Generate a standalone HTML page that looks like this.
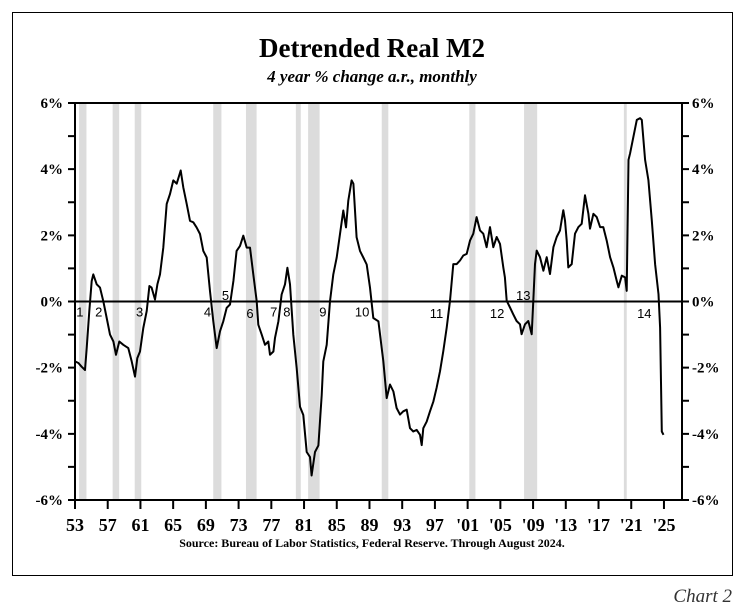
<!DOCTYPE html>
<html><head><meta charset="utf-8"><style>
body{margin:0;background:#fff;width:746px;height:610px;overflow:hidden}
svg{display:block}
</style></head><body>
<svg id="chart" width="746" height="610" xmlns="http://www.w3.org/2000/svg" font-family="'Liberation Serif',serif">
<rect x="12.5" y="12.5" width="720" height="563" fill="none" stroke="#000" stroke-width="1"/>
<text x="372" y="57" text-anchor="middle" font-size="27" font-weight="bold">Detrended Real M2</text>
<text x="372" y="82" text-anchor="middle" font-size="17" font-weight="bold" font-style="italic">4 year % change a.r., monthly</text>
<text x="372" y="547" text-anchor="middle" font-size="12" font-weight="bold">Source: Bureau of Labor Statistics, Federal Reserve. Through August 2024.</text>
<text x="732" y="602" text-anchor="end" font-size="19" font-style="italic" fill="#333">Chart 2</text>
<g id="rec"></g><g id="axes"></g><g id="lbls"></g><path id="line" fill="none" stroke="#000" stroke-width="2" stroke-linejoin="round"/>
</svg>
<script>
const years=[1953.00,1953.41,1953.81,1954.22,1954.43,1954.75,1955.04,1955.24,1955.65,1956.06,1956.46,1956.87,1957.28,1957.69,1958.01,1958.42,1958.91,1959.52,1959.93,1960.33,1960.62,1960.95,1961.35,1961.76,1962.09,1962.37,1962.78,1963.07,1963.39,1963.80,1964.21,1964.61,1965.02,1965.43,1965.92,1966.24,1966.65,1967.06,1967.47,1967.87,1968.28,1968.69,1969.10,1969.50,1969.91,1970.32,1970.73,1971.13,1971.54,1971.95,1972.36,1972.76,1973.17,1973.58,1973.99,1974.39,1974.80,1975.21,1975.41,1975.82,1976.23,1976.63,1976.84,1977.25,1977.45,1977.86,1978.26,1978.67,1978.96,1979.28,1979.69,1980.10,1980.51,1980.91,1981.32,1981.73,1981.93,1982.34,1982.75,1983.16,1983.36,1983.77,1984.17,1984.58,1984.99,1985.40,1985.80,1986.13,1986.41,1986.82,1987.03,1987.43,1987.84,1988.25,1988.66,1989.06,1989.47,1990.09,1990.69,1991.10,1991.51,1991.92,1992.32,1992.73,1993.14,1993.55,1993.95,1994.36,1994.77,1995.18,1995.38,1995.58,1995.99,1996.40,1996.81,1997.21,1997.62,1998.03,1998.44,1998.84,1999.25,1999.66,2000.06,2000.47,2000.88,2001.29,2001.69,2002.10,2002.51,2002.92,2003.32,2003.73,2004.14,2004.55,2004.95,2005.36,2005.56,2005.77,2006.18,2006.58,2006.99,2007.40,2007.60,2008.01,2008.42,2008.83,2009.03,2009.24,2009.44,2009.85,2010.26,2010.66,2011.07,2011.48,2011.89,2012.29,2012.70,2012.90,2013.11,2013.31,2013.72,2014.13,2014.54,2014.94,2015.35,2015.76,2015.96,2016.37,2016.78,2017.19,2017.59,2018.00,2018.41,2018.82,2019.22,2019.43,2019.84,2020.25,2020.45,2020.66,2020.86,2021.27,2021.68,2022.08,2022.29,2022.70,2023.10,2023.51,2023.92,2024.33,2024.53,2024.74,2024.94];
const values=[-1.81,-1.86,-1.97,-2.07,-1.41,-0.29,0.62,0.82,0.52,0.42,0.01,-0.50,-1.00,-1.21,-1.61,-1.21,-1.31,-1.41,-1.81,-2.27,-1.71,-1.51,-0.80,-0.29,0.47,0.42,0.06,0.52,0.82,1.63,2.95,3.25,3.66,3.56,3.96,3.45,2.95,2.44,2.39,2.24,2.04,1.53,1.33,0.31,-0.60,-1.41,-0.90,-0.60,-0.19,-0.09,0.62,1.53,1.68,1.99,1.63,1.63,0.82,0.01,-0.70,-1.00,-1.31,-1.21,-1.61,-1.51,-1.10,-0.60,0.21,0.52,1.02,0.52,-1.00,-2.02,-3.18,-3.43,-4.55,-4.70,-5.26,-4.55,-4.35,-2.83,-1.81,-1.31,0.01,0.82,1.33,2.04,2.75,2.24,3.05,3.66,3.56,1.94,1.53,1.33,1.12,0.42,-0.50,-0.60,-1.80,-2.92,-2.51,-2.72,-3.22,-3.42,-3.32,-3.27,-3.83,-3.93,-3.88,-4.03,-4.34,-3.83,-3.63,-3.32,-3.02,-2.61,-2.11,-1.50,-0.79,0.02,1.13,1.13,1.24,1.39,1.44,1.84,2.05,2.55,2.15,2.05,1.64,2.25,1.64,1.95,1.74,1.03,0.73,0.02,-0.18,-0.39,-0.59,-0.69,-0.99,-0.69,-0.59,-0.99,0.02,1.13,1.54,1.34,0.93,1.34,0.83,1.64,1.95,2.15,2.76,2.45,1.84,1.03,1.13,2.05,2.25,2.35,3.21,2.65,2.20,2.65,2.55,2.25,2.25,1.84,1.34,1.03,0.63,0.43,0.78,0.73,0.32,4.28,4.48,4.98,5.49,5.54,5.49,4.28,3.67,2.45,1.13,0.22,-0.79,-3.93,-4.03];
const recStart=[1953.5,1957.6,1960.3,1969.9,1973.9,1980.0,1981.5,1990.5,2001.2,2007.9,2020.1];
const recEnd=[1954.4,1958.4,1961.1,1970.9,1975.2,1980.6,1982.9,1991.3,2001.95,2009.5,2020.45];
const yTicks=[6,4,2,0,-2,-4,-6];
const xTickYears=[1953,1957,1961,1965,1969,1973,1977,1981,1985,1989,1993,1997,2001,2005,2009,2013,2017,2021,2025];
const xTickLabels=['53','57','61','65','69','73','77','81','85','89','93','97',"'01","'05","'09","'13","'17","'21","'25"];
const recLabels=['1','2','3','4','5','6','7','8','9','10','11','12','13','14'];
const recLabelYears=[1953.6,1955.9,1960.9,1969.2,1971.4,1974.4,1977.3,1978.9,1983.3,1988.1,1997.2,2004.6,2007.8,2022.6];
const recLabelVals=[-0.3,-0.3,-0.3,-0.3,0.2,-0.35,-0.3,-0.3,-0.3,-0.3,-0.35,-0.35,0.2,-0.35];

const L=75,R=682,T=103,B=500;
const xs=y=>L+(y-1953)*8.18;
const ys=v=>301.5-v*33.08;
const NS='http://www.w3.org/2000/svg';
function mk(tag,parent,attrs){const e=document.createElementNS(NS,tag);for(const k in attrs)e.setAttribute(k,attrs[k]);document.getElementById(parent).appendChild(e);return e;}
recStart.forEach((s,i)=>{
  const r=mk('rect','rec',{x:xs(s),y:T,width:xs(recEnd[i])-xs(s),height:B-T,fill:'#dcdcdc'});
  
  
});
const ax=mk('path','axes',{d:`M${L} ${T}H${R}M${L} ${T}V${B}H${R}V${T}M${L} ${ys(0)}H${R}`,stroke:'#000','stroke-width':2,fill:'none'});


let td='';
for(let v=-6;v<=6;v++){const y=ys(v);td+=`M${L} ${y}h-7M${R} ${y}h7`;}
xTickYears.forEach(y=>{td+=`M${xs(y)} ${B}v9`;});
const tk=mk('path','axes',{d:td,stroke:'#000','stroke-width':2});


yTicks.forEach(v=>{
  const a=mk('text','axes',{x:L-12,y:ys(v)+5,'text-anchor':'end','font-size':15,'font-weight':'bold'});a.textContent=v+'%';
  
  
  const b=mk('text','axes',{x:R+10,y:ys(v)+5,'font-size':15,'font-weight':'bold'});b.textContent=v+'%';
  
  
});
xTickYears.forEach((y,i)=>{
  const t=mk('text','axes',{x:xs(y),y:B+31,'text-anchor':'middle','font-size':18,'font-weight':'bold'});t.textContent=xTickLabels[i];
  
  
});
recLabels.forEach((l,i)=>{
  const t=mk('text','lbls',{x:xs(recLabelYears[i]),y:ys(recLabelVals[i])+5,'text-anchor':'middle','font-size':13,'font-family':"'Liberation Sans',sans-serif"});t.textContent=l;
  
  
});
let d='';
years.forEach((y,i)=>{d+=(i?'L':'M')+xs(y).toFixed(1)+' '+ys(values[i]).toFixed(1);});
document.getElementById('line').setAttribute('d',d);
</script>
</body></html>
